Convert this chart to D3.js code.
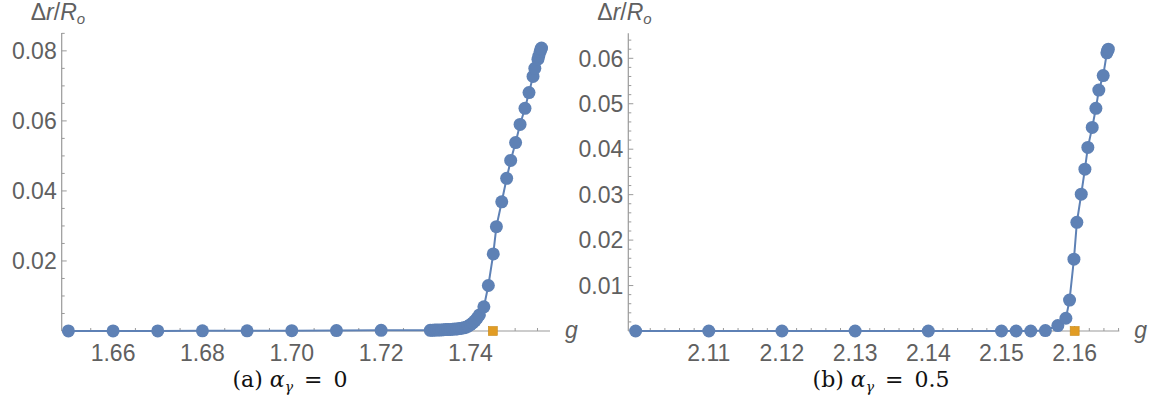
<!DOCTYPE html>
<html>
<head>
<meta charset="utf-8">
<script src="https://cdn.jsdelivr.net/npm/d3@7"></script>
<style>
	body { margin: 0; background: #fff; }
	svg { display: block; }
	.tick-label { font-family: 'Liberation Sans', Arial, sans-serif; font-size: 23px; fill: #606060; }
	.axis-title { font-family: 'Liberation Sans', Arial, sans-serif; font-size: 23px; fill: #606060; }
	.caption { font-family: 'DejaVu Serif', 'Liberation Serif', serif; font-size: 22px; fill: #111; }
</style>
</head>
<body>
<div id="chart"></div>
<script>
// panel (a): alpha_gamma = 0
var gA = [1.65, 1.66, 1.67, 1.68, 1.69, 1.70, 1.71, 1.72,
	1.731, 1.7315, 1.732, 1.7325, 1.733, 1.7335, 1.734, 1.7345, 1.735, 1.7355, 1.736, 1.7365,
	1.737, 1.7375, 1.738, 1.7385, 1.739, 1.7395, 1.740, 1.7405, 1.741, 1.7415, 1.742,
	1.7430, 1.7440, 1.7451, 1.7458, 1.7470, 1.7481, 1.7490, 1.7501, 1.7511, 1.7522,
	1.7531, 1.7540, 1.7544, 1.7551, 1.7553, 1.7556, 1.7558, 1.7559];
var rA = [0.00001, 0.00002, 0.00003, 0.00004, 0.00006, 0.00008, 0.00012, 0.0002,
	0.0002, 0.0002, 0.00025, 0.00025, 0.0003, 0.0003, 0.00035, 0.0004, 0.0004, 0.00045, 0.0005, 0.00055,
	0.0006, 0.0007, 0.0008, 0.0009, 0.0011, 0.0014, 0.0018, 0.0023, 0.0029, 0.0037, 0.0046,
	0.0069, 0.0130, 0.0220, 0.0298, 0.0369, 0.0436, 0.0487, 0.0538, 0.0590, 0.0636,
	0.0681, 0.0727, 0.0750, 0.0776, 0.0785, 0.0798, 0.0805, 0.0808];
var markA = [1.745];
var xLabelsA = [1.66, 1.68, 1.70, 1.72, 1.74];
var yLabelsA = [0.02, 0.04, 0.06, 0.08];

// panel (b): alpha_gamma = 0.5
var gB = [2.10, 2.11, 2.12, 2.13, 2.14, 2.15, 2.152, 2.154, 2.156,
	2.1577, 2.1588, 2.1593, 2.1599, 2.1603, 2.1609, 2.1614, 2.1618, 2.1624, 2.1629,
	2.1633, 2.1639, 2.1644, 2.1645, 2.1646];
var rB = [0, 0, 0, 0, 0, 0, 0, 0, 0.0001,
	0.0012, 0.0028, 0.0068, 0.0158, 0.0239, 0.0301, 0.0356, 0.0404, 0.0448, 0.0490,
	0.0530, 0.0562, 0.0612, 0.0617, 0.0620];
var markB = [2.16];
var xLabelsB = [2.11, 2.12, 2.13, 2.14, 2.15, 2.16];
var yLabelsB = [0.01, 0.02, 0.03, 0.04, 0.05, 0.06];

var blue = '#5e81b5';
var orange = '#e19c24';
var axisGray = '#9a9a9a';

var svg = d3.select('#chart').append('svg')
	.attr('width', 1150)
	.attr('height', 414);

function drawPanel(p) {

	var x = d3.scaleLinear().domain(p.xDomain).range([p.left, p.right]);
	var y = d3.scaleLinear().domain(p.yDomain).range([p.bottom, p.top]);
	var g = svg.append('g');

	// axis lines
	g.append('line')
		.attr('x1', p.left).attr('x2', p.right)
		.attr('y1', p.bottom).attr('y2', p.bottom)
		.attr('stroke', axisGray).attr('stroke-width', 1.2);
	g.append('line')
		.attr('x1', p.left).attr('x2', p.left)
		.attr('y1', p.bottom).attr('y2', p.top)
		.attr('stroke', axisGray).attr('stroke-width', 1.2);

	// ticks point inward, longer where a label sits
	var isMajor = function (v, labels) {
		return labels.some(function (l) { return Math.abs(l - v) < 1e-9; });
	};
	var xTicks = d3.range(p.xTickStart, p.xDomain[1] + 1e-9, p.xMinor);
	g.selectAll('.xt').data(xTicks).enter().append('line')
		.attr('x1', function (d) { return x(d); })
		.attr('x2', function (d) { return x(d); })
		.attr('y1', p.bottom)
		.attr('y2', function (d) { return p.bottom - (isMajor(d, p.xLabels) ? 5 : 3); })
		.attr('stroke', axisGray);
	var yTicks = d3.range(p.yMinor, p.yDomain[1] + 1e-9, p.yMinor);
	g.selectAll('.yt').data(yTicks).enter().append('line')
		.attr('y1', function (d) { return y(d); })
		.attr('y2', function (d) { return y(d); })
		.attr('x1', p.left)
		.attr('x2', function (d) { return p.left + (isMajor(d, p.yLabels) ? 5 : 3); })
		.attr('stroke', axisGray);

	var fmt = d3.format('.2f');
	g.selectAll('.xl').data(p.xLabels).enter().append('text')
		.attr('class', 'tick-label')
		.attr('x', function (d) { return x(d); })
		.attr('y', p.bottom + 30)
		.attr('text-anchor', 'middle')
		.text(fmt);
	g.selectAll('.yl').data(p.yLabels).enter().append('text')
		.attr('class', 'tick-label')
		.attr('x', p.left - 5)
		.attr('y', function (d) { return y(d); })
		.attr('dy', '0.36em')
		.attr('text-anchor', 'end')
		.text(fmt);

	// axis titles
	var t = g.append('text').attr('class', 'axis-title')
		.attr('x', p.left - 31).attr('y', 20);
	t.append('tspan').text('\u0394');
	t.append('tspan').attr('font-style', 'italic').text('r');
	t.append('tspan').text('/');
	t.append('tspan').attr('font-style', 'italic').text('R');
	t.append('tspan').attr('font-style', 'italic').attr('font-size', '15px').attr('dy', 4).text('o');
	g.append('text').attr('class', 'axis-title')
		.attr('font-style', 'italic')
		.attr('x', p.right + 15).attr('y', p.bottom + 7)
		.text('g');

	// data
	var pts = p.gs.map(function (v, i) { return [v, p.rs[i]]; });
	var line = d3.line()
		.x(function (d) { return x(d[0]); })
		.y(function (d) { return y(d[1]); });
	g.append('path')
		.datum(pts)
		.attr('d', line)
		.attr('fill', 'none')
		.attr('stroke', blue)
		.attr('stroke-width', 2);
	g.selectAll('.pt').data(pts).enter().append('circle')
		.attr('cx', function (d) { return x(d[0]); })
		.attr('cy', function (d) { return y(d[1]); })
		.attr('r', 6.5)
		.attr('fill', blue);
	g.selectAll('.mk').data(p.marks).enter().append('rect')
		.attr('x', function (d) { return x(d) - 4.5; })
		.attr('y', y(0) - 4.5)
		.attr('width', 9).attr('height', 9)
		.attr('fill', orange)
		.attr('stroke', '#c88a1c').attr('stroke-width', 0.6);

	// caption
	var c = g.append('text').attr('class', 'caption')
		.attr('x', p.captionX).attr('y', 387)
		.attr('text-anchor', 'middle');
	c.append('tspan').text('(' + p.tag + ') ');
	c.append('tspan').attr('font-style', 'italic').text('\u03b1');
	c.append('tspan').attr('font-style', 'italic').attr('font-size', '14px').attr('dy', 5).text('\u03b3');
	c.append('tspan').attr('dy', -5).text('\u2002=\u2002' + p.value);
}

drawPanel({
	gs: gA, rs: rA, marks: markA, xLabels: xLabelsA, yLabels: yLabelsA,
	xDomain: [1.6485, 1.7578], yDomain: [0, 0.0851],
	left: 61.7, right: 550, top: 33, bottom: 331,
	xTickStart: 1.65, xMinor: 0.005, yMinor: 0.005,
	tag: 'a', value: '0', captionX: 290
});

drawPanel({
	gs: gB, rs: rB, marks: markB, xLabels: xLabelsB, yLabels: yLabelsB,
	xDomain: [2.0990, 2.1661], yDomain: [0, 0.0655],
	left: 628.3, right: 1119.3, top: 33.3, bottom: 331,
	xTickStart: 2.10, xMinor: 0.002, yMinor: 0.002,
	tag: 'b', value: '0.5', captionX: 881
});
</script>
</body>
</html>
